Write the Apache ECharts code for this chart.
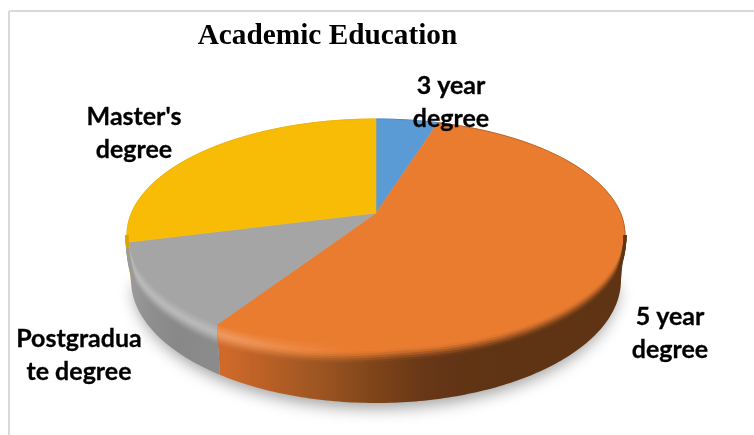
<!DOCTYPE html>
<html>
<head>
<meta charset="utf-8">
<style>html,body{margin:0;padding:0;background:#fff}#chart{width:754px;height:435px}</style>
<script src="https://cdn.jsdelivr.net/npm/echarts@6/dist/echarts.min.js"></script>
</head>
<body>
<div id="chart"></div>
<script>
// Academic education shares, clockwise from twelve o'clock.
const categories = ['3 year degree', '5 year degree', 'Postgraduate degree', "Master's degree"];
const shares = [4, 57, 13, 26];
const labelLines = [['3 year', 'degree'], ['5 year', 'degree'], ['Postgradua', 'te degree'], ["Master's", 'degree']];
const labelCentres = [[451, 102], [670, 333], [79, 355], [134, 133]];
const faceColors = ['#5B9BD5', '#EA7C30', '#A5A5A5', '#F9BC06'];

// Wall shading of each slice as [x, colour] stops, lit from the left.
const wallShades = [
  [[127, '#3f6f9c'], [625, '#3f6f9c']],
  [[215, '#d46c2a'], [260, '#bd6127'], [320, '#9c5521'], [377, '#7c4419'], [430, '#663617'], [480, '#5f3414'], [625, '#5f3414']],
  [[127, '#9c9c9c'], [150, '#8f8f8f'], [180, '#878787'], [217, '#8c8c8c']],
  [[127, '#d9a400'], [140, '#d9a400']]
];

// Projected disc: top rim, bottom rim, and the off-centre point the slices meet at.
const cx = 376, topY = 235, topRx = 249, topRy = 116;
const bottomY = 280, bottomRx = 245, bottomRy = 123;
const apex = [376, 213];
const BEVEL_STEPS = 10;

const total = shares.reduce((a, b) => a + b, 0);
const rad = d => d * Math.PI / 180;
const onRim = (deg, cy, rx, ry, dy = 0) => [cx + rx * Math.sin(rad(deg)), cy - ry * Math.cos(rad(deg)) + dy];
const arc = (from, to, cy, rx, ry, dy) => {
  const pts = [];
  const n = Math.max(2, Math.ceil(Math.abs(to - from)));
  for (let i = 0; i <= n; i++) pts.push(onRim(from + (to - from) * i / n, cy, rx, ry, dy));
  return pts;
};

const clamp01 = v => Math.max(0, Math.min(1, v));
const toRgb = hex => [1, 3, 5].map(i => parseInt(hex.slice(i, i + 2), 16));
const mix = (a, b, f) => a.map((v, i) => v + (b[i] - v) * f);
const css = c => `rgb(${c.map(Math.round).join(',')})`;
function shadeAt(stops, x) {
  if (x <= stops[0][0]) return toRgb(stops[0][1]);
  for (let i = 1; i < stops.length; i++) {
    if (x <= stops[i][0]) {
      const f = (x - stops[i - 1][0]) / (stops[i][0] - stops[i - 1][0]);
      return mix(toRgb(stops[i - 1][1]), toRgb(stops[i][1]), f);
    }
  }
  return toRgb(stops[stops.length - 1][1]);
}
function horizontalGradient(colorAt) {
  const stops = [];
  for (let i = 0; i <= 20; i++) {
    stops.push({ offset: i / 20, color: css(colorAt(127 + 498 * i / 20)) });
  }
  return new echarts.graphic.LinearGradient(127, 0, 625, 0, stops, true);
}

// The bevel sits lower and reads wider on the lit side, and closes up at the disc's widest points.
function bevelArc(from, to, f) {
  return arc(from, to, topY, topRx, topRy, 0).map(([x, y]) => {
    const lit = clamp01((400 - x) / 180);
    const top = -12 + 12 * lit;
    const bottom = 11 + 11 * lit;
    const taper = clamp01((y - topY) / topRy * 4);
    return [x, y + (top + (bottom - top) * f) * taper];
  });
}

function renderSlice(params, api) {
  const i = params.dataIndex;
  const before = shares.slice(0, i).reduce((a, b) => a + b, 0);
  const start = before / total * 360;
  const end = start + api.value(0) / total * 360;
  const face = toRgb(faceColors[i]);
  const wall = wallShades[i];
  const children = [];

  // Wall of the disc, only where the slice faces the viewer.
  const from = Math.max(start, 90), to = Math.min(end, 270);
  const hasWall = to > from;
  if (hasWall) {
    const upper = arc(from, to, topY, topRx, topRy, 0);
    const lower = arc(to, from, bottomY, bottomRx, bottomRy, 0);
    children.push({
      type: 'polygon',
      shape: { points: upper.concat(lower) },
      style: { fill: horizontalGradient(x => shadeAt(wall, x)) }
    });
  }

  // Top face.
  children.push({
    type: 'polygon',
    shape: { points: [apex].concat(arc(start, end, topY, topRx, topRy, 0)) },
    style: { fill: css(face), stroke: css(face), lineWidth: 0.6 }
  });

  // Thin darker edge along the far rim.
  const backRanges = [[start, Math.min(end, 90)], [Math.max(start, 270), end]];
  backRanges.forEach(([a, b]) => {
    if (b > a) {
      children.push({
        type: 'polyline',
        shape: { points: arc(a, b, topY, topRx, topRy, 0) },
        style: { fill: null, lineWidth: 1, stroke: css(mix(face, shadeAt(wall, 600), 0.32)) }
      });
    }
  });

  // Soft rounded bevel between face and wall, with a tinted highlight towards the light.
  if (hasWall) {
    const highlight = mix(face, [255, 255, 255], 0.22);
    for (let k = 0; k <= BEVEL_STEPS; k++) {
      const f = k / BEVEL_STEPS;
      const colorAt = x => {
        const lit = clamp01((345 - x) / 120);
        const crest = mix(face, highlight, lit);
        if (f < 0.4) return mix(face, crest, f / 0.4);
        const g = (f - 0.4) / 0.6;
        return mix(crest, shadeAt(wall, x), g * g * (3 - 2 * g));
      };
      children.push({
        type: 'polyline',
        shape: { points: bevelArc(from, to, f) },
        style: { fill: null, lineWidth: 3, stroke: horizontalGradient(colorAt) }
      });
    }
  }
  return { type: 'group', children };
}

function renderShadow() {
  return {
    type: 'polygon',
    shape: { points: arc(90, 270, bottomY - 2, bottomRx - 3, bottomRy, 0) },
    style: {
      fill: '#bbbbbb',
      shadowBlur: 16,
      shadowOffsetY: 7,
      shadowColor: 'rgba(0,0,0,0.38)'
    }
  };
}

function renderLabel(params) {
  const i = params.dataIndex;
  return {
    type: 'text',
    style: {
      x: labelCentres[i][0],
      y: labelCentres[i][1],
      text: labelLines[i].join('\n'),
      align: 'center',
      verticalAlign: 'middle',
      fontFamily: 'Lato',
      fontWeight: 'bold',
      fontSize: 25,
      lineHeight: 33,
      fill: '#000',
      stroke: '#000',
      lineWidth: 0.3
    }
  };
}

const chart = echarts.init(document.getElementById('chart'));
chart.setOption({
  animation: false,
  backgroundColor: '#fff',
  title: {
    text: 'Academic Education',
    left: 322.5,
    top: 17,
    textAlign: 'center',
    textStyle: { fontFamily: 'Liberation Serif', fontWeight: 'bold', fontSize: 29.3, color: '#000' }
  },
  graphic: [
    { type: 'line', shape: { x1: 9, y1: 11, x2: 754, y2: 11 }, style: { stroke: '#d9d9d9', lineWidth: 2 } },
    { type: 'line', shape: { x1: 9, y1: 11, x2: 9, y2: 435 }, style: { stroke: '#d9d9d9', lineWidth: 2 } }
  ],
  series: [
    { type: 'custom', name: 'shadow', coordinateSystem: 'none', z: 1, data: [[total]], renderItem: renderShadow },
    {
      type: 'custom',
      name: 'Academic Education',
      coordinateSystem: 'none',
      z: 2,
      data: categories.map((name, i) => ({ name, value: [shares[i]] })),
      renderItem: renderSlice
    },
    {
      type: 'custom',
      name: 'labels',
      coordinateSystem: 'none',
      z: 3,
      data: categories.map((name, i) => ({ name, value: [shares[i]] })),
      renderItem: renderLabel
    }
  ]
});
</script>
</body>
</html>
